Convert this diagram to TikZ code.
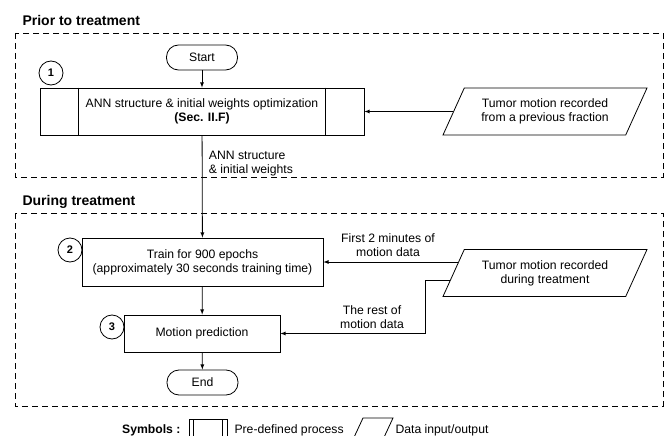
\documentclass[tikz,border=0pt]{standalone}
\usepackage{fontspec}
\setmainfont{Liberation Sans}
\usetikzlibrary{positioning}
\usetikzlibrary{arrows,shapes}
\usetikzlibrary{calc}

\tikzset{
  stepbox/.style={draw, thick, rectangle, align=center, inner sep=0pt},
  terminal/.style={draw, thick, rectangle, rounded corners=12pt, minimum width=71pt, minimum height=25pt},
  dataio/.style={draw, thick, trapezium, trapezium left angle=50, trapezium right angle=130,
                 trapezium stretches body, minimum width=204pt, minimum height=47pt, align=center, inner sep=0pt},
  numcirc/.style={draw, thick, circle, minimum size=24pt, inner sep=0pt, font=\fontsize{11}{12}\selectfont\bfseries},
  phase/.style={draw, thick, dash pattern=on 6pt off 4pt},
  title/.style={anchor=west, font=\fontsize{14}{16}\selectfont\bfseries},
  flow/.style={->, thick}
}

\begin{document}
\begin{tikzpicture}[x=1pt, y=-1pt, >=latex, font=\fontsize{12.2}{14}\selectfont]
  \clip (0,0) rectangle (665,436);

  % phases
  \node[title] (prior) at (19,20) {Prior to treatment};
  \draw[phase] (15,33) rectangle (663,177);
  \node[title] (during) at (19,202) {During treatment};
  \draw[phase] (15,213) rectangle (663,406);

  % flow
  \node[terminal] (start) at (202,57.5) {Start};
  \node[stepbox, minimum width=324pt, minimum height=47pt] (ann) at (202,111.5)
       {ANN structure \& initial weights optimization\\ \textbf{(Sec. II.F)}};
  \draw[thick] ($(ann.north west)+(39,0)$) -- ($(ann.south west)+(39,0)$);
  \draw[thick] ($(ann.north east)+(-39,0)$) -- ($(ann.south east)+(-39,0)$);
  \node[dataio] (prev) at (545,111.5) {Tumor motion recorded\\from a previous fraction};

  \node[stepbox, minimum width=241pt, minimum height=48pt] (train) at (202.5,262)
       {Train for 900 epochs\\(approximately 30 seconds training time)};
  \node[stepbox, minimum width=156pt, minimum height=37pt] (pred) at (202,333.5) {Motion prediction};
  \node[terminal] (end) at (202.5,382.5) {End};
  \node[dataio] (live) at (545,273) {Tumor motion recorded\\during treatment};

  \foreach \n/\x/\y in {1/51/73, 2/70/250, 3/112/327}
    \node[numcirc] (step\n) at (\x,\y) {\n};

  % connectors
  \draw[flow] (start) -- (ann);
  \draw[flow] (prev.west) -- (prev.west -| ann.east);
  \draw[flow] (ann) -- (train) node[pos=0.28, right=3pt, align=left] {ANN structure\\\& initial weights};
  \path (live.top left corner) -- (live.bottom left corner)
        coordinate[pos=0.27] (livea) coordinate[pos=0.65] (liveb);
  \draw[flow] (livea) -- (livea -| train.east);
  \draw[flow] (liveb) -| ($(pred.east)+(145,0)$) -- (pred.east);
  \draw[flow] (train) -- (pred);
  \draw[flow] (pred) -- (end);

  \node[align=center] (first) at (388,245) {First 2 minutes of\\motion data};
  \node[align=center] (rest) at (372,317) {The rest of\\motion data};

  % symbols
  \node[anchor=east, font=\fontsize{12.2}{14}\selectfont\bfseries] (sym) at (184,430) {Symbols :};
  \draw[thick] (189,419) rectangle (227,450);
  \draw[thick] (193,419) -- (193,450);
  \draw[thick] (222.5,419) -- (222.5,450);
  \node[anchor=west] (symproc) at (231,430) {Pre-defined process};
  \draw[thick] (363,418) -- (393,418) -- (380,446) -- (350,446) -- cycle;
  \node[anchor=west] (symdata) at (392,430) {Data input/output};
\end{tikzpicture}
\end{document}
